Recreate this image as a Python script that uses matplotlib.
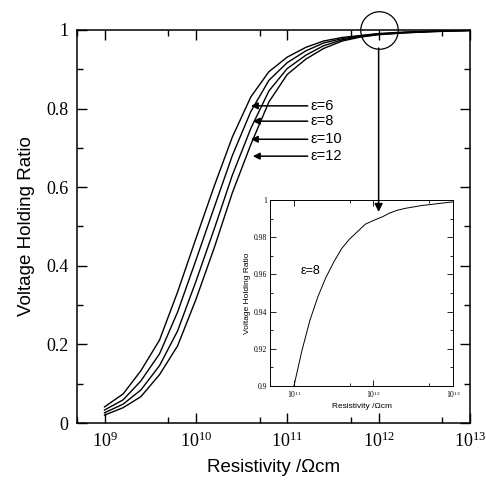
import matplotlib
matplotlib.use("Agg")
import matplotlib.pyplot as plt
from matplotlib.ticker import LogLocator, MultipleLocator, FormatStrFormatter, NullFormatter

plt.rcParams['font.family'] = ['Liberation Serif', 'DejaVu Serif']
plt.rcParams['mathtext.fontset'] = 'custom'
plt.rcParams['mathtext.rm'] = 'Liberation Serif'
plt.rcParams['mathtext.it'] = 'Liberation Serif:italic'

# main plot data (resistivity in Ohm cm)
rho = [1.0e9, 1.6e9, 2.5e9, 4.0e9, 6.3e9, 1.0e10, 1.6e10, 2.5e10, 4.0e10,
       6.3e10, 1.0e11, 1.6e11, 2.5e11, 4.0e11, 6.3e11, 1.0e12, 2.0e12, 4.0e12, 1.0e13]
vhr_a = [0.041, 0.074, 0.133, 0.211, 0.333, 0.469, 0.605, 0.727, 0.830,
         0.894, 0.931, 0.956, 0.972, 0.981, 0.986, 0.991, 0.995, 0.997, 0.999]
vhr_b = [0.033, 0.059, 0.107, 0.176, 0.282, 0.414, 0.551, 0.680, 0.793,
         0.872, 0.917, 0.947, 0.967, 0.978, 0.985, 0.990, 0.994, 0.997, 0.999]
vhr_c = [0.026, 0.048, 0.084, 0.146, 0.234, 0.360, 0.496, 0.630, 0.750,
         0.845, 0.902, 0.936, 0.960, 0.975, 0.983, 0.989, 0.993, 0.996, 0.999]
vhr_d = [0.020, 0.039, 0.067, 0.123, 0.196, 0.314, 0.448, 0.585, 0.709,
         0.817, 0.887, 0.926, 0.953, 0.972, 0.982, 0.988, 0.993, 0.996, 0.999]

# labels with arrows
eps_labels = ['ε=6', 'ε=8', 'ε=10', 'ε=12']
arrow_tip_x = [4.0e10, 4.2e10, 4.0e10, 4.2e10]
arrow_y = [0.807, 0.768, 0.722, 0.679]
label_x = 1.8e11

# inset data (eps = 8)
rho_in = [1.0e11, 1.26e11, 1.58e11, 2.0e11, 2.5e11, 3.2e11, 4.0e11, 5.0e11,
          6.3e11, 7.9e11, 1.0e12, 1.3e12, 1.6e12, 2.0e12, 2.5e12, 4.0e12, 6.3e12, 1.0e13]
vhr_in = [0.900, 0.919, 0.935, 0.948, 0.958, 0.967, 0.974, 0.979,
          0.983, 0.987, 0.989, 0.991, 0.993, 0.9945, 0.9955, 0.997, 0.998, 0.999]

fig = plt.figure(figsize=(4.86, 4.80), dpi=100)
ax = fig.add_axes([77 / 486, 57 / 480, 393 / 486, 393 / 480])

for v in [vhr_a, vhr_b, vhr_c, vhr_d]:
    ax.plot(rho, v, color='black', lw=1.0)

ax.set_xscale('log')
ax.set_xlim(5e8, 1e13)
ax.set_ylim(0, 1)
ax.xaxis.set_major_locator(LogLocator(base=10, numticks=10))
ax.xaxis.set_minor_locator(LogLocator(base=10, subs=[5.0], numticks=10))
ax.xaxis.set_minor_formatter(NullFormatter())
ax.yaxis.set_major_locator(MultipleLocator(0.2))
ax.yaxis.set_minor_locator(MultipleLocator(0.1))
ax.yaxis.set_major_formatter(FormatStrFormatter('%g'))
ax.tick_params(which='both', direction='in', top=True, right=True, width=1.0)
ax.tick_params(which='major', length=7, labelsize=13, pad=6)
ax.tick_params(which='minor', length=4)
for s in ax.spines.values():
    s.set_linewidth(1.1)

ax.set_xlabel('Resistivity /Ωcm', family=['Liberation Sans', 'DejaVu Sans'], fontsize=13.5, labelpad=6)
ax.set_ylabel('Voltage Holding Ratio', family=['Liberation Sans', 'DejaVu Sans'], fontsize=13.5, labelpad=8)

for lab, tx, ty in zip(eps_labels, arrow_tip_x, arrow_y):
    ax.annotate('', xy=(tx, ty), xytext=(label_x * 0.93, ty),
                arrowprops=dict(arrowstyle='-|>', color='black', lw=1.1,
                                mutation_scale=10, shrinkA=0, shrinkB=0))
    ax.text(label_x, ty, lab, family=['Liberation Sans', 'DejaVu Sans'],
            fontsize=10.5, va='center', ha='left')

# circle marking the zoomed region
ax.plot([1e12], [1.0], marker='o', markersize=27, markerfacecolor='none',
        markeredgecolor='black', markeredgewidth=0.9, clip_on=False)

# inset
axin = fig.add_axes([270 / 486, 94 / 480, 183 / 486, 186 / 480])
axin.plot(rho_in, vhr_in, color='black', lw=0.7)
axin.set_xscale('log')
axin.set_xlim(5e10, 1e13)
axin.set_ylim(0.9, 1.0)
axin.xaxis.set_major_locator(LogLocator(base=10, numticks=10))
axin.xaxis.set_minor_locator(LogLocator(base=10, subs=[5.0], numticks=10))
axin.xaxis.set_minor_formatter(NullFormatter())
axin.yaxis.set_major_locator(MultipleLocator(0.02))
axin.yaxis.set_minor_locator(MultipleLocator(0.01))
axin.yaxis.set_major_formatter(FormatStrFormatter('%g'))
axin.tick_params(which='both', direction='in', top=True, right=True, width=0.6)
axin.tick_params(which='major', length=4, labelsize=5.5, pad=2)
axin.tick_params(which='minor', length=2)
for s in axin.spines.values():
    s.set_linewidth(0.7)
axin.set_xlabel('Resistivity /Ωcm', family=['Liberation Sans', 'DejaVu Sans'], fontsize=6, labelpad=2)
axin.set_ylabel('Voltage Holding Ratio', family=['Liberation Sans', 'DejaVu Sans'], fontsize=6, labelpad=2)
axin.text(1.6e11, 0.962, 'ε=8', family=['Liberation Sans', 'DejaVu Sans'], fontsize=9, ha='center', va='center')

# vertical arrow from the circle down into the inset
axin.annotate('', xy=(1e12, 0.537), xycoords=ax.transData,
              xytext=(1e12, 0.954), textcoords=ax.transData,
              arrowprops=dict(arrowstyle='-|>', color='black', lw=1.1,
                              mutation_scale=12, shrinkA=0, shrinkB=0))

fig.savefig('out.png', dpi=100)
